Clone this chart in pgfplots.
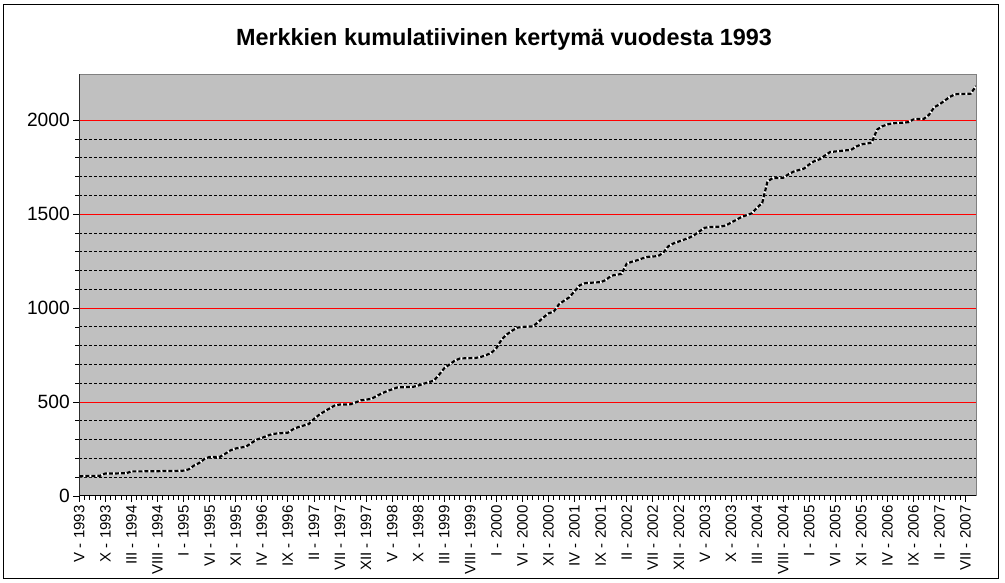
\documentclass[border=0pt]{standalone}
\usepackage{pgfplots}
\pgfplotsset{compat=1.18}
\usepackage{pgfplotstable}
\usepackage{fontspec}
\setmainfont{Liberation Sans}
\definecolor{plotgray}{HTML}{C0C0C0}
\definecolor{framegray}{HTML}{808080}
\pgfplotstableread{
i v
0 105
1 106
2 106
3 107
4 108
5 120
6 120
7 120
8 121
9 121
10 131
11 131
12 131
13 132
14 132
15 132
16 133
17 133
18 133
19 134
20 135
21 142
22 162
23 176
24 197
25 208
26 208
27 209
28 225
29 243
30 253
31 258
32 263
33 282
34 300
35 309
36 320
37 330
38 333
39 335
40 337
41 355
42 367
43 375
44 383
45 410
46 432
47 450
48 466
49 482
50 487
51 487
52 488
53 498
54 509
55 513
56 517
57 532
58 546
59 558
60 568
61 578
62 579
63 580
64 581
65 588
66 597
67 606
68 614
69 645
70 680
71 700
72 720
73 732
74 733
75 734
76 735
77 740
78 750
79 761
80 787
81 833
82 860
83 880
84 896
85 900
86 902
87 903
88 925
89 950
90 972
91 982
92 1020
93 1040
94 1058
95 1090
96 1122
97 1133
98 1135
99 1137
100 1138
101 1150
102 1172
103 1178
104 1182
105 1237
106 1247
107 1255
108 1265
109 1273
110 1275
111 1277
112 1295
113 1330
114 1345
115 1355
116 1365
117 1375
118 1390
119 1410
120 1428
121 1432
122 1433
123 1434
124 1440
125 1455
126 1470
127 1485
128 1495
129 1505
130 1535
131 1560
132 1675
133 1692
134 1693
135 1694
136 1712
137 1727
138 1735
139 1743
140 1765
141 1783
142 1792
143 1812
144 1831
145 1834
146 1837
147 1840
148 1842
149 1860
150 1872
151 1876
152 1881
153 1950
154 1968
155 1978
156 1984
157 1986
158 1987
159 1990
160 2005
161 2007
162 2008
163 2030
164 2070
165 2085
166 2105
167 2125
168 2139
169 2140
170 2141
171 2142
172 2183
}\datatable
\begin{document}
\begin{tikzpicture}
\path[use as bounding box] (0,0) rectangle (1005pt,583pt);
\draw[black, line width=1pt] (3.5pt,4.5pt) rectangle (998.5pt,578.5pt);
\node[font=\fontsize{23.4}{27}\selectfont\bfseries] at (504pt,544pt) {Merkkien kumulatiivinen kertymä vuodesta 1993};
\begin{axis}[
 at={(79.3pt,87pt)}, anchor=south west,
 scale only axis, width=896.7pt, height=421.7pt,
 xmin=0, xmax=172, ymin=0, ymax=2245,
 axis background/.style={fill=plotgray},
 axis line style={framegray, line width=1pt},
 xtick={0,5,...,170},
 xticklabels={V - 1993, X - 1993, III - 1994, VIII - 1994, I - 1995, VI - 1995, XI - 1995, IV - 1996, IX - 1996, II - 1997, VII - 1997, XII - 1997, V - 1998, X - 1998, III - 1999, VIII - 1999, I - 2000, VI - 2000, XI - 2000, IV - 2001, IX - 2001, II - 2002, VII - 2002, XII - 2002, V - 2003, X - 2003, III - 2004, VIII - 2004, I - 2005, VI - 2005, XI - 2005, IV - 2006, IX - 2006, II - 2007, VII - 2007},
 minor x tick num=4,
 ytick={0,500,...,2000},
 minor y tick num=4,
 tick pos=left,
 tick align=outside,
 tick style={black, line width=0.8pt},
 major tick length=6pt, minor tick length=4pt,
 ymajorgrids, yminorgrids,
 major grid style={red, line width=1pt},
 minor grid style={black, line width=0.9pt, dash pattern=on 3pt off 2pt},
 xticklabel style={rotate=90, anchor=east, font=\fontsize{15}{18}\selectfont},
 yticklabel style={font=\fontsize{19.2}{22}\selectfont},
 /pgf/number format/assume math mode=true,
 /pgf/number format/set thousands separator={},
]
\addplot[white, line width=2.2pt, no markers, line join=round] table[x=i,y=v] {\datatable};
\addplot[black, line width=2.2pt, no markers, dash pattern=on 4pt off 2pt] table[x=i,y=v] {\datatable};
\draw[black, line width=1pt] (rel axis cs:0,1) -- (rel axis cs:0,0) -- (rel axis cs:1,0);
\end{axis}
\end{tikzpicture}
\end{document}
